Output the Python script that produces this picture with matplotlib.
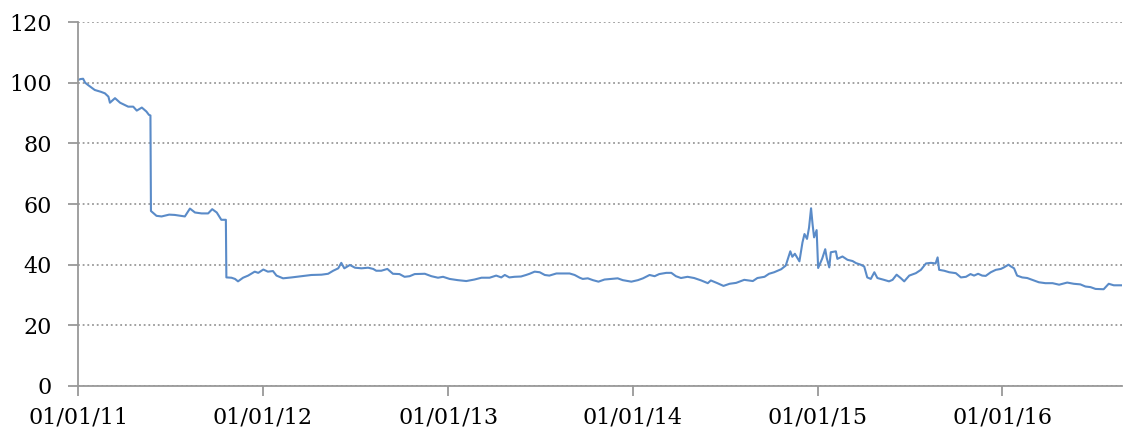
import numpy as np
import matplotlib
matplotlib.use('Agg')
import matplotlib.pyplot as plt
import matplotlib.dates as mdates


start_date = np.datetime64('2011-01-01')

# days since 01/01/11
days = [
	0, 5, 10, 14, 20, 33, 45, 53, 60, 63, 73, 83, 99, 109, 116, 126, 135, 140, 143,
	144, 155, 165, 180, 191, 211, 221, 231, 244, 257, 265, 274, 283, 292,
	293, 303, 310, 316, 326, 336, 349, 356, 366, 375, 385, 392, 405, 422, 441, 461,
	481, 494, 504, 514, 520, 526, 537, 547, 560, 573, 583, 589, 599, 611, 622, 635,
	645, 655, 665, 685, 698, 711, 721, 734, 750, 767, 783, 797, 813, 826, 836, 843,
	852, 862, 875, 885, 892, 902, 912, 922, 931, 945, 958, 971, 981, 991, 997, 1007,
	1017, 1028, 1040, 1053, 1066, 1076, 1093, 1106, 1116, 1129, 1139, 1148, 1162,
	1172, 1181, 1191, 1204, 1217, 1231, 1244, 1250, 1263, 1275, 1287, 1300, 1316,
	1333, 1342, 1356, 1365, 1375, 1389, 1398, 1407, 1411, 1416, 1425, 1431, 1435,
	1440, 1444, 1448, 1451, 1454, 1459, 1462, 1470, 1476, 1479, 1484, 1487, 1497,
	1500, 1510, 1520, 1530, 1537, 1546, 1553, 1559, 1566, 1573, 1579, 1592, 1602,
	1609, 1617, 1625, 1632, 1642, 1655, 1665, 1675, 1685, 1694, 1698, 1701, 1711,
	1721, 1734, 1744, 1754, 1763, 1770, 1778, 1786, 1793, 1803, 1813, 1823, 1829,
	1838, 1842, 1849, 1855, 1865, 1875, 1885, 1898, 1911, 1925, 1938, 1954, 1967,
	1980, 1990, 2000, 2010, 2026, 2036, 2046, 2062,
]

values = [
	100.9, 101.2, 101.3, 100.0, 99.2, 97.6, 97.0, 96.5, 95.4, 93.4, 94.9, 93.4, 92.1, 92.1, 90.8, 91.8, 90.5, 89.4, 89.2,
	57.7, 56.1, 55.9, 56.5, 56.4, 55.9, 58.5, 57.2, 56.9, 56.9, 58.3, 57.2, 54.8, 54.8,
	35.8, 35.7, 35.3, 34.5, 35.7, 36.4, 37.7, 37.3, 38.4, 37.7, 37.9, 36.4, 35.5, 35.8, 36.2, 36.6,
	36.7, 37.0, 38.0, 38.8, 40.6, 38.8, 39.9, 39.0, 38.8, 39.0, 38.6, 38.0, 38.0, 38.6, 37.0, 36.9,
	36.0, 36.2, 36.9, 37.0, 36.2, 35.7, 36.0, 35.3, 34.9, 34.6, 35.1, 35.7, 35.7, 36.4, 35.8, 36.6,
	35.8, 36.0, 36.1, 36.6, 37.0, 37.7, 37.5, 36.6, 36.4, 37.1, 37.1, 37.1, 36.6, 35.7, 35.3, 35.5,
	34.9, 34.4, 35.1, 35.3, 35.5, 34.9, 34.4, 34.9, 35.5, 36.6, 36.2, 36.9, 37.3,
	37.3, 36.2, 35.6, 36.0, 35.6, 34.8, 33.9, 34.8, 33.9, 33.0, 33.7, 34.0, 35.0,
	34.6, 35.6, 36.0, 37.0, 37.5, 38.5, 39.7, 44.4, 42.6, 43.6, 41.1, 47.3, 50.1,
	48.5, 52.2, 58.6, 53.3, 49.0, 51.4, 38.9, 42.0, 45.1, 42.2, 39.1, 44.1, 44.4,
	41.9, 42.7, 41.6, 41.2, 40.5, 40.0, 39.4, 35.8, 35.3, 37.5, 35.6, 35.0, 34.5,
	35.0, 36.7, 35.6, 34.5, 36.4, 37.2, 38.3, 40.4, 40.6, 40.4, 42.4, 38.3, 38.0,
	37.5, 37.2, 35.8, 36.0, 36.9, 36.4, 37.0, 36.4, 36.3, 37.5, 38.3, 38.6, 39.1,
	40.0, 39.5, 38.8, 36.4, 35.8, 35.6, 35.0, 34.2, 33.9, 33.9, 33.4, 34.1, 33.7,
	33.5, 32.8, 32.6, 32.0, 31.9, 33.7, 33.2, 33.2,
]

tick_dates = ['2011-01-01', '2012-01-01', '2013-01-01', '2014-01-01', '2015-01-01', '2016-01-01']
y_ticks = [0, 20, 40, 60, 80, 100, 120]


def main():
	dates = start_date + np.array(days, dtype='timedelta64[D]')

	fig = plt.figure(figsize=(11.23, 4.32), dpi=100)
	ax = fig.add_axes([0.0695, 0.1065, 0.9295, 0.8425])

	ax.plot(dates, values, color='#5A8BC8', linewidth=1.5)

	ax.set_ylim(0, 120)
	ax.set_xlim(dates[0], dates[-1])
	ax.set_yticks(y_ticks)
	ax.set_xticks(np.array(tick_dates, dtype='datetime64[D]'))
	ax.xaxis.set_major_formatter(mdates.DateFormatter('%d/%m/%y'))

	#dotted horizontal gridlines only
	ax.yaxis.grid(True, linestyle=(0, (1.0, 1.6)), color='#9A9A9A', linewidth=1.3)
	ax.set_axisbelow(True)

	for side in ['top', 'right']:
		ax.spines[side].set_visible(False)
	for side in ['left', 'bottom']:
		ax.spines[side].set_color('#999999')
		ax.spines[side].set_linewidth(1.3)

	ax.tick_params(axis='both', colors='#999999', labelcolor='black',
		length=7, width=1.3, labelsize=16)
	ax.tick_params(axis='y', pad=12)
	ax.tick_params(axis='x', pad=8)
	for lab in ax.get_xticklabels() + ax.get_yticklabels():
		lab.set_family('DejaVu Serif')

	fig.savefig('out.png', dpi=100)


if __name__ == '__main__':
	main()
